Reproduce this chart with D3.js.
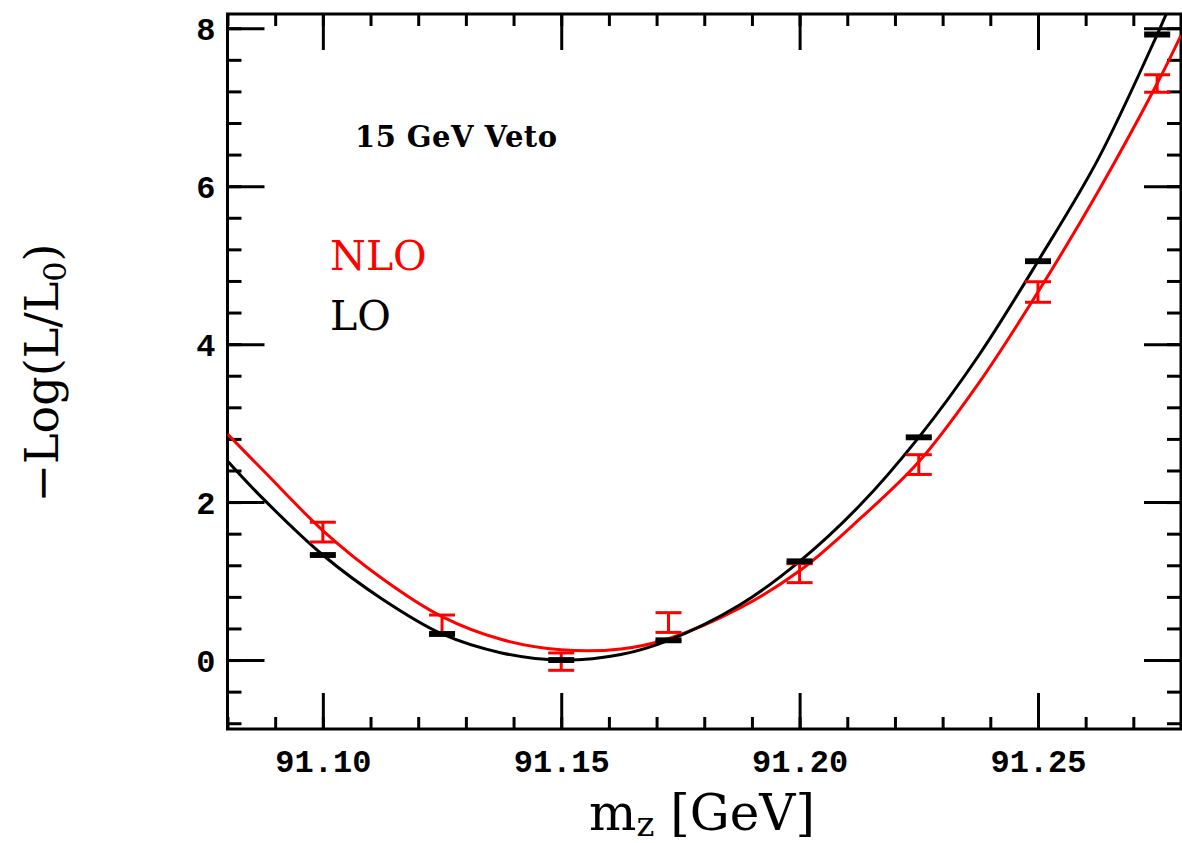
<!DOCTYPE html>
<html>
<head>
<meta charset="utf-8">
<script src="https://cdn.jsdelivr.net/npm/d3@7"></script>
<style>
  body { margin: 0; background: #fff; }
  svg { display: block; }
  .tick text { font-family: "Liberation Mono", monospace; font-weight: bold; }
</style>
</head>
<body>
<script>
var W = 1182, H = 843;

// data points
var massPoints = [91.10, 91.125, 91.15, 91.1725, 91.20, 91.225, 91.25, 91.275];
var loValues = [1.33, 0.33, 0.0, 0.25, 1.25, 2.82, 5.05, 7.92];
var loErrors = [0.015, 0.015, 0.015, 0.015, 0.015, 0.015, 0.015, 0.015];
var nloValues = [1.62, 0.45, -0.02, 0.475, 1.10, 2.475, 4.66, 7.30];
var nloErrors = [0.125, 0.12, 0.11, 0.125, 0.12, 0.125, 0.13, 0.11];

// fitted curves
var curveMass = [91.08, 91.0875, 91.10, 91.1125, 91.125, 91.1375, 91.15, 91.1625, 91.1725,
                 91.1875, 91.20, 91.2125, 91.225, 91.2375, 91.25, 91.2625, 91.275, 91.28];
var loCurve = [2.52, 2.04, 1.33, 0.77, 0.33, 0.09, 0.0, 0.07, 0.25,
               0.70, 1.25, 1.95, 2.82, 3.85, 5.05, 6.33, 7.92, 8.62];
var nloCurve = [2.86, 2.40, 1.64, 1.03, 0.55, 0.26, 0.13, 0.14, 0.27,
                0.66, 1.13, 1.78, 2.51, 3.50, 4.66, 5.92, 7.30, 7.91];

// ticks
var xMajor = [91.10, 91.15, 91.20, 91.25];
var xLabels = ["91.10", "91.15", "91.20", "91.25"];
var yMajor = [0, 2, 4, 6, 8];
var yLabels = ["0", "2", "4", "6", "8"];

var padL = 227.5, padR = 1181, padT = 14, padB = 729;

svg = d3.select("body").append("svg")
    .attr("width", W)
    .attr("height", H);

var x = d3.scaleLinear().domain([91.08, 91.28]).range([padL, padR]);
var y = d3.scaleLinear().domain([-0.873, 8.18]).range([padB, padT]);

var xMinor = x.ticks(20);
var yMinor = d3.range(-2, 21).map(function(i){ return +(i * 0.4).toFixed(1); });

defs = svg.append("defs");
defs.append("clipPath").attr("id", "plotClip")
    .append("rect")
    .attr("x", padL).attr("y", padT)
    .attr("width", padR - padL).attr("height", padB - padT);

// axes, ticks pointing inward
function styleAxis(g){
    g.select(".domain").remove();
    g.selectAll(".tick line").attr("stroke", "#000").attr("stroke-width", 3);
}

svg.append("g").attr("transform", "translate(0," + padB + ")")
    .call(d3.axisBottom(x).tickValues(xMinor).tickSize(-12).tickFormat(""))
    .call(styleAxis);
var xAxisMajor = svg.append("g").attr("transform", "translate(0," + padB + ")")
    .call(d3.axisBottom(x).tickValues(xMajor).tickSize(-36)
        .tickFormat(function(d, i){ return xLabels[i]; }))
    .call(styleAxis);
xAxisMajor.selectAll(".tick text")
    .attr("y", 43).attr("dy", null)
    .attr("font-size", 32).attr("fill", "#000");

svg.append("g").attr("transform", "translate(0," + padT + ")")
    .call(d3.axisTop(x).tickValues(xMinor).tickSize(-12).tickFormat(""))
    .call(styleAxis);
svg.append("g").attr("transform", "translate(0," + padT + ")")
    .call(d3.axisTop(x).tickValues(xMajor).tickSize(-36).tickFormat(""))
    .call(styleAxis);

svg.append("g").attr("transform", "translate(" + padL + ",0)")
    .call(d3.axisLeft(y).tickValues(yMinor).tickSize(-14).tickFormat(""))
    .call(styleAxis);
var yAxisMajor = svg.append("g").attr("transform", "translate(" + padL + ",0)")
    .call(d3.axisLeft(y).tickValues(yMajor).tickSize(-37)
        .tickFormat(function(d, i){ return yLabels[i]; }))
    .call(styleAxis);
yAxisMajor.selectAll(".tick text")
    .attr("x", -12).attr("dy", "0.36em")
    .attr("font-size", 32).attr("fill", "#000");

svg.append("g").attr("transform", "translate(" + padR + ",0)")
    .call(d3.axisRight(y).tickValues(yMinor).tickSize(-14).tickFormat(""))
    .call(styleAxis);
svg.append("g").attr("transform", "translate(" + padR + ",0)")
    .call(d3.axisRight(y).tickValues(yMajor).tickSize(-37).tickFormat(""))
    .call(styleAxis);

// frame
svg.append("rect")
    .attr("x", padL).attr("y", padT)
    .attr("width", padR - padL).attr("height", padB - padT)
    .attr("fill", "none").attr("stroke", "#000").attr("stroke-width", 3);

// curves
plot = svg.append("g").attr("clip-path", "url(#plotClip)");

var line = d3.line()
    .x(function(d){ return x(d[0]); })
    .y(function(d){ return y(d[1]); })
    .curve(d3.curveCatmullRom);

plot.append("path")
    .datum(d3.zip(curveMass, nloCurve))
    .attr("d", line)
    .attr("fill", "none").attr("stroke", "#ff0000").attr("stroke-width", 3);
plot.append("path")
    .datum(d3.zip(curveMass, loCurve))
    .attr("d", line)
    .attr("fill", "none").attr("stroke", "#000").attr("stroke-width", 3);

// error bars
function drawErrors(values, errors, color, cls, capW, sw){
    var data = massPoints.map(function(m, i){ return {m: m, v: values[i], e: errors[i]}; });
    var g = plot.append("g").attr("class", cls)
        .attr("stroke", color).attr("stroke-width", sw);
    g.selectAll("line.v").data(data).enter().append("line")
        .attr("class", "v")
        .attr("x1", function(d){ return x(d.m); })
        .attr("x2", function(d){ return x(d.m); })
        .attr("y1", function(d){ return y(d.v - d.e); })
        .attr("y2", function(d){ return y(d.v + d.e); });
    g.selectAll("line.hi").data(data).enter().append("line")
        .attr("class", "hi")
        .attr("x1", function(d){ return x(d.m) - capW; })
        .attr("x2", function(d){ return x(d.m) + capW; })
        .attr("y1", function(d){ return y(d.v + d.e); })
        .attr("y2", function(d){ return y(d.v + d.e); });
    g.selectAll("line.lo").data(data).enter().append("line")
        .attr("class", "lo")
        .attr("x1", function(d){ return x(d.m) - capW; })
        .attr("x2", function(d){ return x(d.m) + capW; })
        .attr("y1", function(d){ return y(d.v - d.e); })
        .attr("y2", function(d){ return y(d.v - d.e); });
}
drawErrors(nloValues, nloErrors, "#ff0000", "nloErr", 13, 3);
drawErrors(loValues, loErrors, "#000", "loErr", 13, 3.5);

// labels
var serif = "DejaVu Serif, serif";

svg.append("text")
    .attr("x", 355).attr("y", 147)
    .attr("font-family", serif)
    .attr("font-weight", "bold").attr("font-size", 29)
    .attr("textLength", 202)
    .text("15 GeV Veto");

svg.append("text")
    .attr("x", 330).attr("y", 270)
    .attr("font-family", serif)
    .attr("font-size", 41).attr("fill", "#ff0000")
    .text("NLO");
svg.append("text")
    .attr("x", 330).attr("y", 330)
    .attr("font-family", serif)
    .attr("font-size", 41).attr("fill", "#000")
    .text("LO");

var yTitle = svg.append("text")
    .attr("transform", "translate(58,373) rotate(-90)")
    .attr("text-anchor", "middle")
    .attr("font-family", serif)
    .attr("font-size", 46);
yTitle.append("tspan").text("\u2212Log(L/L");
yTitle.append("tspan").attr("font-size", 32).attr("dy", 8).text("0");
yTitle.append("tspan").attr("dy", -8).text(")");

var xTitle = svg.append("text")
    .attr("x", 702).attr("y", 830)
    .attr("text-anchor", "middle")
    .attr("font-family", serif)
    .attr("font-size", 50);
xTitle.append("tspan").text("m");
xTitle.append("tspan").attr("font-size", 34).attr("dy", 6).text("z");
xTitle.append("tspan").attr("dy", -6).text(" [GeV]");
</script>
</body>
</html>
